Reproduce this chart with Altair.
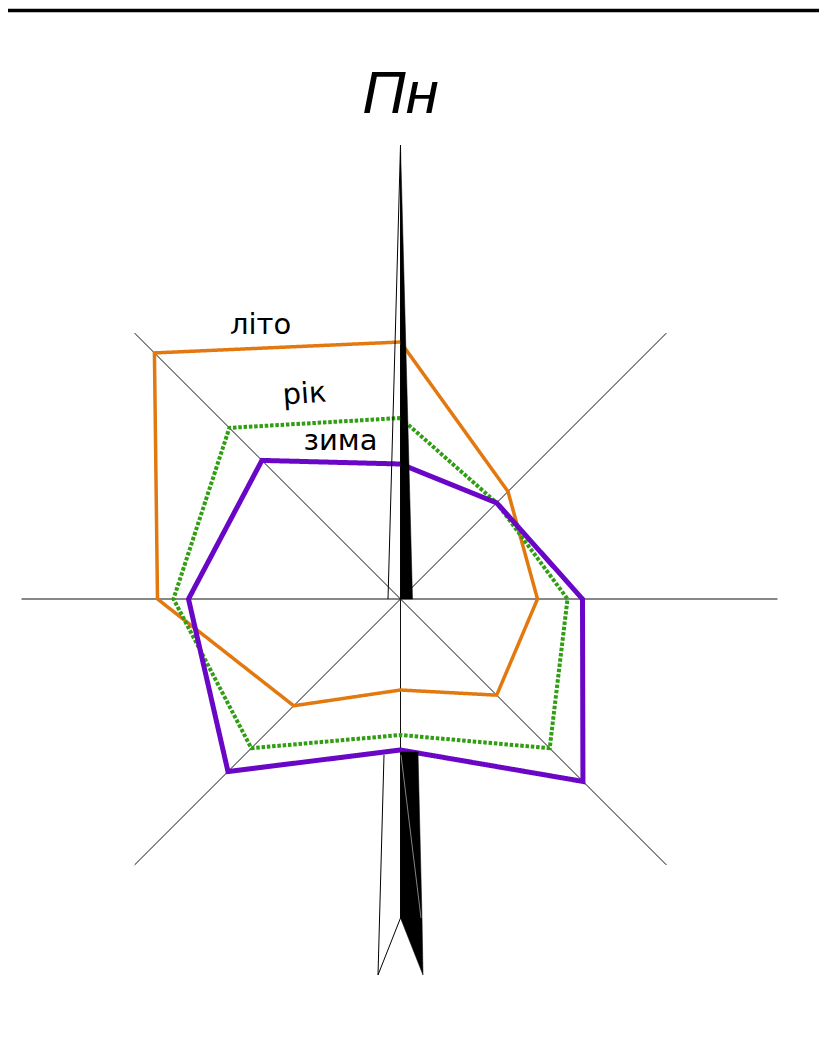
import math
import altair as alt
import pandas as pd

# ---- data -------------------------------------------------------------
directions = ["Пн", "ПнСх", "Сх", "ПдСх", "Пд", "ПдЗх", "Зх", "ПнЗх"]
angles = [0, 45, 90, 135, 180, 225, 270, 315]
summer = [257, 152, 137, 136, 91, 151, 243, 348]   # літо
year = [181, 136, 167, 211, 136, 211, 227, 242]     # рік
winter = [135, 136, 182, 258, 151, 244, 212, 196]   # зима
series_names = ["літо", "рік", "зима"]
series_colors = ["#E3780E", "#2F9E12", "#6A06C6"]
axis_reach = [454, 376, 377, 376, 319, 376, 379, 376]

# north arrow outline (units relative to centre)
arrow_up_y = [454, 0]
arrow_up_x2 = [0, 12]
tail_y = [-153, -319]
tail_x2 = [17.5, 21.5]
tip_y = [-319, -376]
tip_x = [0, 22.5]
tip_x2 = [21.5, 22.5]
outline_up_x = [-12.5, 0]
outline_up_y = [0, 454]
outline_dn_x = [-16.5, -22.5, 0]
outline_dn_y = [-156, -376, -319]

# ---- frames --------------------------------------------------------------
rows = []
for name, vals in zip(series_names, [summer, year, winter]):
    for i in range(len(directions) + 1):
        k = i % len(directions)
        rows.append({"series": name, "dir": directions[k], "angle": angles[k],
                     "r": vals[k], "ord": i})
poly = pd.DataFrame(rows)

axes_df = pd.DataFrame({"dir": directions, "angle": angles, "r": axis_reach})

W, H = 811, 1012
CX, CY = 392.5, 591  # centre inside plot area (px)
xs = alt.Scale(domain=[-CX, W - CX], nice=False, zero=False)
ys = alt.Scale(domain=[CY - H, CY], nice=False, zero=False)

def X(field, **kw):
    return alt.X(field, type="quantitative", scale=xs, axis=None, **kw)

def Y(field, **kw):
    return alt.Y(field, type="quantitative", scale=ys, axis=None, **kw)

# axis lines
axes = alt.Chart(axes_df).transform_calculate(
    x2="datum.r*sin(datum.angle*PI/180)",
    y2="datum.r*cos(datum.angle*PI/180)",
    x0="0", y0="0",
).mark_rule(color="#111111", strokeWidth=1).encode(
    x=X("x0:Q"), y=Y("y0:Q"), x2="x2:Q", y2="y2:Q")

# polygons
layers = [axes]
dash = {"літо": [1, 0], "рік": [3.5, 1.8], "зима": [1, 0]}
widths = {"літо": 3.5, "рік": 4, "зима": 5}
for name, col in zip(series_names, series_colors):
    layers.append(
        alt.Chart(poly).transform_filter(alt.datum.series == name).transform_calculate(
            px="datum.r*sin(datum.angle*PI/180)",
            py="datum.r*cos(datum.angle*PI/180)",
        ).mark_line(color=col, strokeWidth=widths[name], strokeDash=dash[name],
                    strokeJoin="miter", strokeCap="butt").encode(
            x=X("px:Q"), y=Y("py:Q"), order="ord:Q")
    )

# north arrow
up = pd.DataFrame({"y": arrow_up_y, "x": [0, 0], "x2": arrow_up_x2})
tail = pd.DataFrame({"y": tail_y, "x": [0, 0], "x2": tail_x2})
tip = pd.DataFrame({"y": tip_y, "x": tip_x, "x2": tip_x2})
for d in (up, tail, tip):
    layers.append(alt.Chart(d).mark_area(orient="horizontal", color="black",
                                         stroke="black", strokeWidth=0.5).encode(
        y=Y("y:Q"), x=X("x:Q"), x2="x2:Q"))

ol1 = pd.DataFrame({"x": outline_up_x, "y": outline_up_y, "o": [0, 1]})
ol2 = pd.DataFrame({"x": outline_dn_x, "y": outline_dn_y, "o": [0, 1, 2]})
for d in (ol1, ol2):
    layers.append(alt.Chart(d).mark_line(color="black", strokeWidth=1).encode(
        x=X("x:Q"), y=Y("y:Q"), order="o:Q"))

inner = pd.DataFrame({"x": [0.5, 20.5], "y": [-156, -319], "o": [0, 1]})
layers.append(alt.Chart(inner).mark_line(color="#bbbbbb", strokeWidth=0.7).encode(
    x=X("x:Q"), y=Y("y:Q"), order="o:Q"))

# series labels
lab = pd.DataFrame({"t": series_names, "x": [-140, -96, -60], "y": [274, 205, 158],
                    "a": [0, 356, 0]})
layers.append(alt.Chart(lab).mark_text(font="DejaVu Sans", fontSize=29, color="black",
                                       baseline="middle", align="center").encode(
    x=X("x:Q"), y=Y("y:Q"), text="t:N", angle=alt.Angle("a:Q", scale=None)))

# title
ttl = pd.DataFrame({"t": ["Пн"], "x": [0], "y": [486]})
layers.append(alt.Chart(ttl).mark_text(font="Liberation Sans", fontStyle="italic",
                                       fontSize=60, color="black",
                                       baseline="alphabetic", align="center").encode(
    x=X("x:Q"), y=Y("y:Q"), text="t:N"))

# top frame line
top = pd.DataFrame({"x": [-CX], "x2": [W - CX], "y": [588.5]})
layers.append(alt.Chart(top).mark_rule(color="black", strokeWidth=3.5).encode(
    x=X("x:Q"), x2="x2:Q", y=Y("y:Q")))

chart = alt.layer(*layers).properties(
    width=W, height=H, padding=0, autosize="none"
).configure_view(stroke=None)

chart.save("out.html", embed_options={"renderer": "svg", "actions": False})
